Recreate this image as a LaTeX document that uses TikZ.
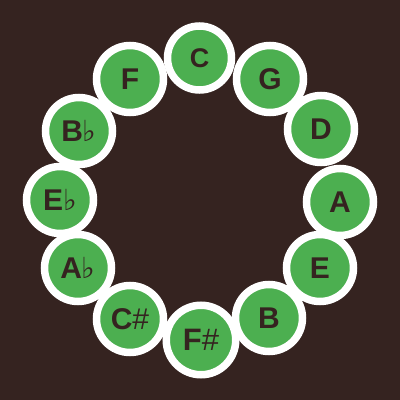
\documentclass[tikz,border=0pt]{standalone}
\usepackage{fontspec}
\setmainfont{Liberation Sans}
\newfontfamily\dejavu{DejaVu Sans}
\definecolor{bgbrown}{HTML}{352320}
\definecolor{keygreen}{HTML}{4CAF50}
\newcommand{\flt}{{\dejavu\mdseries\fontsize{29}{29}\selectfont ♭}}
\newcommand{\shp}{{\mdseries\#}}
\tikzset{
  keynode/.style={circle, fill=keygreen, draw=white, line width=7.5pt, inner sep=0pt,
    minimum size=#1, text=bgbrown, font=\bfseries\fontsize{30}{30}\selectfont},
  keynode/.default=67pt
}
\begin{document}
\begin{tikzpicture}[x=1pt,y=-1pt]
\fill[bgbrown] (0,0) rectangle (400,400);
\useasboundingbox (0,0) rectangle (400,400);
\node[keynode=64pt, font=\bfseries\fontsize{27}{27}\selectfont] (C) at (199.5,58) {C};
\node[keynode] (G) at (270,79) {G};
\node[keynode] (D) at (321,129) {D};
\node[keynode] (A) at (340,202) {A};
\node[keynode] (E) at (320,268) {E};
\node[keynode] (B) at (269,318) {B};
\node[keynode=69.5pt, font=\bfseries\fontsize{31}{31}\selectfont] (Fs) at (201,340) {F\shp};
\node[keynode] (Cs) at (130,319) {C\shp};
\node[keynode] (Ab) at (78,268) {A\flt};
\node[keynode] (Eb) at (60,200) {E\flt};
\node[keynode] (Bb) at (79,131) {B\flt};
\node[keynode] (F) at (130,79) {F};
\end{tikzpicture}
\end{document}
